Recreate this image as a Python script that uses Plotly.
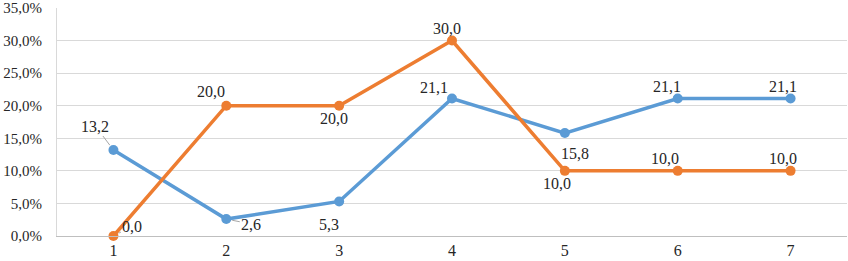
import plotly.graph_objects as go

categories = ["1", "2", "3", "4", "5", "6", "7"]
series_blue = [13.2, 2.6, 5.3, 21.1, 15.8, 21.1, 21.1]
series_orange = [0.0, 20.0, 20.0, 30.0, 10.0, 10.0, 10.0]
y_ticks = [0, 5, 10, 15, 20, 25, 30, 35]

BLUE = "#5B9BD5"
ORANGE = "#ED7D31"
FONT = "Liberation Serif"
FS = 16

# label offsets (pixels) relative to each point: (dx, dy, leader)
blue_off = [(-18, -24, True), (25, 5, True), (-10, 23, False), (-18, -11, False),
            (10, 20, False), (-11, -12, False), (-8, -12, False)]
orange_off = [(19, -10, True), (-15, -14, False), (-5, 13, False), (-5, -12, False),
              (-8, 13, False), (-13, -12, False), (-8, -12, False)]

fig = go.Figure()
for vals, col in ((series_blue, BLUE), (series_orange, ORANGE)):
    fig.add_trace(go.Scatter(
        x=list(range(len(categories))), y=[v / 100 for v in vals], mode="lines+markers",
        line=dict(color=col, width=3.5), marker=dict(color=col, size=10),
        showlegend=False, cliponaxis=False))

anns = []
for vals, offs in ((series_blue, blue_off), (series_orange, orange_off)):
    for i, (v, (dx, dy, lead)) in enumerate(zip(vals, offs)):
        txt = f"{v:.1f}".replace(".", ",")
        if lead:
            anns.append(dict(x=i, y=v / 100, xref="x", yref="y", text=txt,
                             showarrow=True, ax=dx, ay=dy, arrowhead=0,
                             arrowwidth=1, arrowcolor="#a6a6a6", standoff=6,
                             font=dict(family=FONT, size=FS, color="#262626")))
        else:
            anns.append(dict(x=i, y=v / 100, xref="x", yref="y", text=txt,
                             showarrow=False, xshift=dx, yshift=-dy,
                             font=dict(family=FONT, size=FS, color="#262626")))

fig.update_layout(
    width=848, height=261,
    margin=dict(l=57, r=1, t=8, b=25, autoexpand=False),
    paper_bgcolor="white", plot_bgcolor="white",
    separators=", ",
    annotations=anns,
    font=dict(family=FONT, size=FS, color="#262626"),
)
fig.update_xaxes(tickmode="array", tickvals=list(range(len(categories))),
                 ticktext=categories, showgrid=False, showline=True,
                 linecolor="#bfbfbf", linewidth=1, ticks="", automargin=False,
                 tickfont=dict(family=FONT, size=FS, color="#262626"),
                 range=[-0.5, 6.5], zeroline=False)
fig.update_yaxes(range=[0, 0.35], tickvals=[t / 100 for t in y_ticks],
                 tickformat=".1%", showgrid=True, gridcolor="#d9d9d9",
                 gridwidth=1, showline=True, linecolor="#d9d9d9", automargin=False,
                 zeroline=False, ticks="", ticklabelstandoff=11,
                 ticklabeloverflow="allow",
                 tickfont=dict(family=FONT, size=15, color="#262626"))

fig.write_html("out.html", config={"displayModeBar": False},
               post_script="document.body.style.margin='0';document.body.style.overflow='hidden';")
